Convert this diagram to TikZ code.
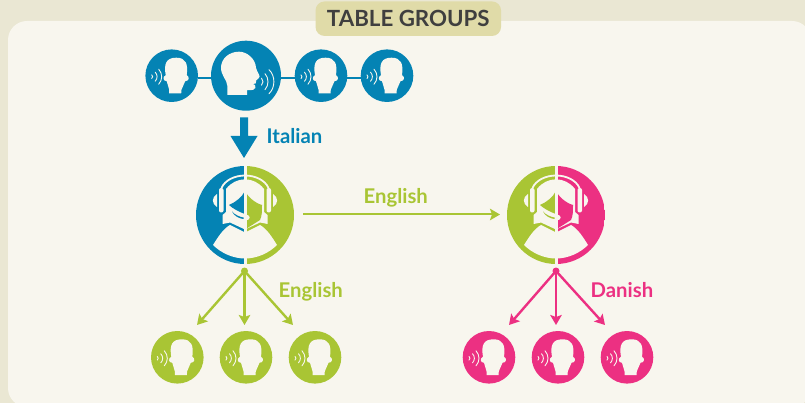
\documentclass[tikz,border=0pt]{standalone}
\usepackage{fontspec}
\setmainfont{Lato}
\usetikzlibrary{arrows.meta}
\definecolor{cblue}{HTML}{0483B4}
\definecolor{cgreen}{HTML}{A9C534}
\definecolor{cpink}{HTML}{EC3082}
\definecolor{cback}{HTML}{EAE7D3}
\definecolor{cpanel}{HTML}{F8F6EE}
\definecolor{cpill}{HTML}{E0DBA8}
\definecolor{cdark}{HTML}{3F3F3F}
\tikzset{
  person/.style={circle,minimum size=52.6pt,inner sep=0pt,outer sep=0pt,fill=#1},
  speakerc/.style={circle,minimum size=70pt,inner sep=0pt,outer sep=0pt,fill=#1},
  interp/.style n args={2}{circle,minimum size=98pt,inner sep=0pt,outer sep=0pt,
    path picture={
      \fill[#1] (path picture bounding box.south west) rectangle (path picture bounding box.north);
      \fill[#2] (path picture bounding box.south) rectangle (path picture bounding box.north east);
    }},
  wave/.style={draw=cpanel,line width=0.9pt,line cap=round},
  label/.style={font=\bfseries\fontsize{20.3}{23}\selectfont,text=#1,inner sep=0pt},
  flow/.style={draw=#1,line width=2.4pt,-{Stealth[length=10pt,width=11.5pt,inset=2pt]}},
  listener/.pic={
    \fill[cpanel] (-2.5,17.7) -- (9.5,17.7) -- (9.8,14) .. controls (10.5,11) and (12.5,9) .. (13.5,5.5)
      .. controls (17.5,5.5) and (18.2,1) .. (15,-0.5)
      .. controls (16.6,-12) and (14,-18) .. (4.5,-18)
      .. controls (-5.5,-18) and (-8,-12) .. (-6,-0.5)
      .. controls (-9.4,1) and (-8.8,5.5) .. (-5,5.5)
      .. controls (-4.5,9) and (-2.8,11) .. (-2.5,14) -- cycle;
    \draw[wave] (-20,-0.8) .. controls (-18.8,0) and (-18.8,2) .. (-20,2.8);
    \draw[wave] (-16.5,-3.5) .. controls (-14,-1) and (-14,3) .. (-16.5,5.5);
    \draw[wave] (-13,-6.5) .. controls (-9,-2) and (-9,4) .. (-13,8.5);
  },
  talker/.pic={
    \fill[cpanel] (-18.7,19.3) -- (1,19.3) -- (1.2,14.4) .. controls (3,14.6) and (6,14.6) .. (7.5,14)
      .. controls (9.5,13.4) and (9.7,11.5) .. (9.2,9.5)
      -- (7,8.4) -- (9.8,7.6) .. controls (10.6,6.8) and (10.4,5.6) .. (10.2,4.6)
      .. controls (11,3.8) and (13.5,2.6) .. (13.6,1) .. controls (13.7,-1) and (10.5,-5) .. (10,-8)
      .. controls (9.5,-17) and (1,-24) .. (-7,-24)
      .. controls (-17,-24) and (-25,-17) .. (-25,-8)
      .. controls (-25,0) and (-19,4) .. (-18.7,10) -- cycle;
    \draw[wave] (15.5,2.5) .. controls (17.5,4.5) and (17.5,7.5) .. (15.5,9.5);
    \draw[wave] (19,-2) .. controls (23,2.5) and (23,9.5) .. (19,14);
    \draw[wave] (23,-6) .. controls (29.5,0) and (29.5,12) .. (23,18);
  },
  interpreter/.pic={
    \fill[cpanel] (-32,30) .. controls (-27,22) and (-22,14) .. (-15,10) -- (0,17.5) -- (15,10)
      .. controls (22,14) and (27,22) .. (32,30)
      .. controls (24,38) and (12,43.5) .. (0,43.5) .. controls (-12,43.5) and (-24,38) .. (-32,30) -- cycle;
    \fill[cpanel] (0,14.5) -- (-15,7.5) -- (-22.5,9) -- (-22.5,0) -- (-19,-3) -- (-19,-26)
      .. controls (-14,-32.5) and (-7,-35.7) .. (0,-35.7)
      .. controls (7,-35.7) and (14,-32.5) .. (19,-26) -- (19,-3) -- (22.5,0) -- (22.5,9) -- (15,7.5) -- cycle;
    \draw[cpanel,line width=1.8pt] (-23.5,-27) .. controls (-20,-35) and (-10,-39.5) .. (0,-39.5)
      .. controls (10,-39.5) and (20,-35) .. (23.5,-27);
    \fill[cpanel,rounded corners=2pt] (-26,-27) rectangle (-21.5,-2.5);
    \fill[cpanel,rounded corners=2pt] (21.5,-27) rectangle (26,-2.5);
    \fill[cpanel] (-28,-21) .. controls (-33.5,-18) and (-33.5,-11) .. (-28,-8) -- cycle;
    \fill[cpanel] (28,-21) .. controls (33.5,-18) and (33.5,-11) .. (28,-8) -- cycle;
  },
  wedgel/.pic={
    \fill[#1] (0,-24) .. controls (-3,-18) and (-9,-13) .. (-16,-10) .. controls (-13,-7) and (-6,-3) .. (0,-1) -- cycle;
  },
  wedger/.pic={
    \fill[#1] (0,-24) .. controls (3,-18) and (10,-12) .. (17,-10) .. controls (17,-4) and (17,1) .. (15,5)
      -- (0,14.5) -- cycle;
  },
  micro/.pic={
    \draw[cpanel,line width=1.2pt] (-16,-6) .. controls (-13,-1) and (-7,2) .. (1,2.5);
    \fill[#1] (-13,-3.5) .. controls (-10,0) and (-5,2) .. (-1.5,2.5) -- (-1.5,4) .. controls (-6,3.5) and (-11,1) .. (-13,-3.5) -- cycle;
  }
}
\begin{document}
\begin{tikzpicture}[x=1pt,y=-1pt]
\useasboundingbox (0,0) rectangle (805,403);
\begin{scope}
\clip (0,0) rectangle (805,403);
\fill[cback] (0,0) rectangle (805,403);
\fill[cpanel,rounded corners=19pt] (8,21) rectangle (811,407);
\end{scope}

\node[fill=cpill,rounded corners=9pt,minimum width=185.5pt,minimum height=34.5pt,inner sep=0pt,
      font=\bfseries\fontsize{22.3}{25}\selectfont,text=cdark] (title) at (408.3,18.7) {TABLE GROUPS};

\node[person=cblue] (t1) at (171.7,75.7) {};
\node[speakerc=cblue] (t2) at (246,75.7) {};
\node[person=cblue] (t3) at (321,75.7) {};
\node[person=cblue] (t4) at (387,75.7) {};
\draw[cblue,line width=2pt] ([yshift=-2pt]t1.east) -- ([yshift=-2pt]t2.west);
\draw[cblue,line width=2pt] ([yshift=-2pt]t2.east) -- ([yshift=-2pt]t3.west);
\draw[cblue,line width=2pt] ([yshift=-2pt]t3.east) -- ([yshift=-2pt]t4.west);
\pic at (t1) {listener};
\pic at (t2) {talker};
\pic at (t3) {listener};
\pic at (t4) {listener};

\node[interp={cblue}{cgreen}] (i1) at (245,215) {};
\node[interp={cgreen}{cpink}] (i2) at (556,215) {};
\pic at (i1) {interpreter};
\pic at (i2) {interpreter};
\pic at (i1) {wedgel=cblue};
\pic at (i1) {wedger=cgreen};
\pic at (i1) {micro=cblue};
\pic at (i2) {wedgel=cgreen};
\pic at (i2) {wedger=cpink};
\pic at (i2) {micro=cgreen};
\fill[cpanel] (243.5,165) rectangle (246.5,265);
\fill[cpanel] (554.5,165) rectangle (557.5,265);
\fill[cpanel] (i1) ++(2,2.5) circle (2.6);
\fill[cpanel] (i2) ++(2,2.5) circle (2.6);

\fill[cblue] (240,117.5) -- (248,117.5) -- (248,136) -- (257.5,136) -- (244,158) -- (230.5,136) -- (240,136) -- cycle;
\node[label=cblue,anchor=base west] (lit) at (266.5,144) {Italian};

\coordinate (ha) at (303,214.5);
\coordinate (hb) at (500,214.5);
\draw[flow=cgreen,line width=2pt] (ha) -- (hb);
\node[label=cgreen,anchor=base] (len) at (395.8,204) {English};

\node[circle,fill=cgreen,minimum size=7pt,inner sep=0pt] (d1) at (244.5,271) {};
\node[circle,fill=cpink,minimum size=7pt,inner sep=0pt] (d2) at (556,271) {};
\coordinate (a1) at (197,325);
\coordinate (a2) at (244.5,325);
\coordinate (a3) at (293,325);
\coordinate (b1) at (509,325);
\coordinate (b2) at (556,325);
\coordinate (b3) at (605,325);
\foreach \e in {a1,a2,a3} \draw[flow=cgreen] (d1.center) -- (\e);
\foreach \e in {b1,b2,b3} \draw[flow=cpink] (d2.center) -- (\e);
\node[label=cgreen,anchor=base west] (leg) at (278.5,297) {English};
\node[label=cpink,anchor=base west] (ld) at (590.5,297) {Danish};

\node[person=cgreen] (g1) at (177.3,357.3) {};
\node[person=cgreen] (g2) at (246,357.3) {};
\node[person=cgreen] (g3) at (315,357.3) {};
\node[person=cpink] (p1) at (489,357.3) {};
\node[person=cpink] (p2) at (558,357.3) {};
\node[person=cpink] (p3) at (627,357.3) {};
\foreach \n in {g1,g2,g3,p1,p2,p3} \pic at (\n) {listener};
\end{tikzpicture}
\end{document}
